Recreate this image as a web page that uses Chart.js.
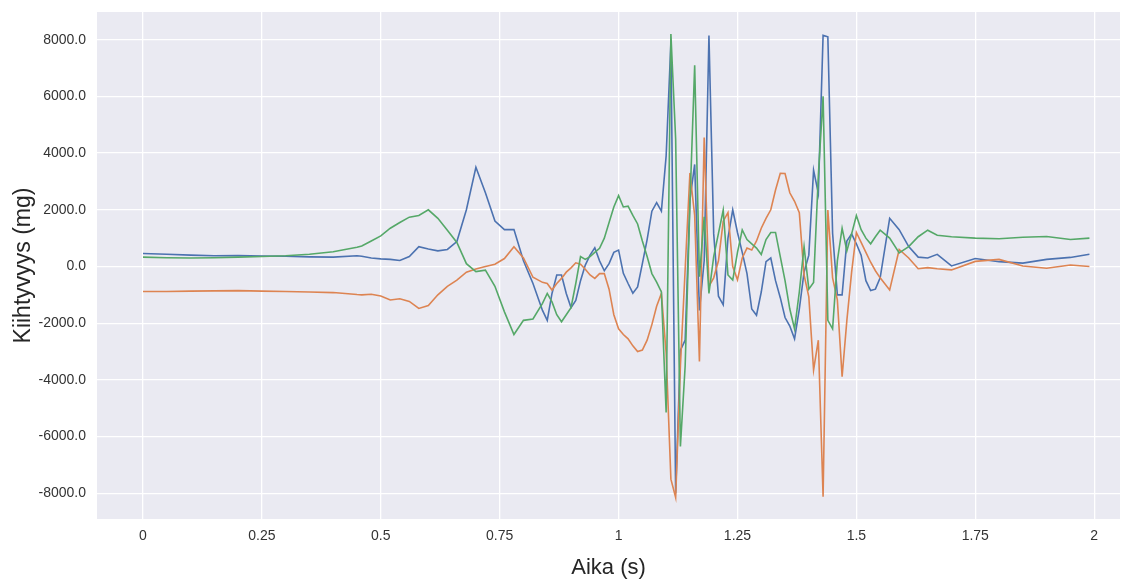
<!DOCTYPE html>
<html>
<head>
<meta charset="utf-8">
<script src="https://cdn.jsdelivr.net/npm/chart.js@4.4.0/dist/chart.umd.min.js"></script>
<style>
  html, body { margin: 0; padding: 0; background: #fff; overflow: hidden; }
</style>
</head>
<body>
<canvas id="kaavio" width="1126" height="581"></canvas>
<script>
// näytteenottoajat (s)
var aika = [0, 0.05, 0.1, 0.15, 0.2, 0.25, 0.3, 0.35, 0.4, 0.45,
  0.46, 0.48, 0.5, 0.52, 0.54, 0.56, 0.58, 0.6, 0.62, 0.64, 0.66, 0.68, 0.7, 0.72, 0.74, 0.76, 0.78, 0.8, 0.82, 0.84,
  0.85, 0.86, 0.87, 0.88, 0.89, 0.9, 0.91, 0.92, 0.93, 0.94, 0.95, 0.96, 0.97, 0.98, 0.99,
  1.0, 1.01, 1.02, 1.03, 1.04, 1.05, 1.06, 1.07, 1.08, 1.09,
  1.1, 1.11, 1.12, 1.13, 1.14, 1.15, 1.16, 1.17, 1.18, 1.19,
  1.2, 1.21, 1.22, 1.23, 1.24, 1.25, 1.26, 1.27, 1.28, 1.29,
  1.3, 1.31, 1.32, 1.33, 1.34, 1.35, 1.36, 1.37, 1.38, 1.39,
  1.4, 1.41, 1.42, 1.43, 1.44, 1.45, 1.46, 1.47, 1.48, 1.49,
  1.5, 1.51, 1.52, 1.53, 1.54, 1.55,
  1.57, 1.59, 1.61, 1.63, 1.65, 1.67, 1.7, 1.75, 1.8, 1.85, 1.9, 1.95, 1.99];

// kiihtyvyys (mg), x-akseli
var xAkseli = [460, 430, 400, 380, 390, 370, 360, 340, 330, 380,
  360, 300, 270, 250, 210, 350, 700, 620, 550, 600, 880, 2000, 3500, 2600, 1600, 1300, 1300, 200, -600, -1550,
  -1900, -950, -300, -300, -950, -1450, -1200, -500, 50, 400, 660, 200, -150, 100, 500,
  580, -240, -600, -940, -720, 100, 950, 1950, 2250, 1950,
  3900, 7900, -8000, -2950, -2600, 2350, 3600, -1550, 200, 8150,
  1150, -1050, -1350, 1000, 2000, 1200, 500, -250, -1500, -1720,
  -900, 170, 300, -500, -1100, -1800, -2100, -2550, -1500, -200,
  400, 3400, 2580, 8150, 8100, 1170, -1000, -1000, 900, 1150,
  800, 400, -500, -850, -800, -400,
  1700, 1300, 700, 330, 300, 430, 20, 280, 170, 120, 250, 320, 430];

// kiihtyvyys (mg), y-akseli
var yAkseli = [-880, -880, -870, -860, -850, -870, -880, -900, -920, -990,
  -1000, -980, -1040, -1180, -1140, -1230, -1480, -1380, -1000, -700, -480, -200, -90, 0, 80, 280, 700, 300, -380, -560,
  -600, -830, -600, -420, -200, -50, 130, 80, -100, -300, -420, -250, -250, -800, -1700,
  -2200, -2400, -2550, -2800, -3000, -2950, -2600, -2050, -1400, -950,
  -3050, -7500, -8150, -3500, -100, 3300, 1800, -3350, 4550, -700,
  -400, 200, 1600, 1900, 0, -470, 300, 650, 580, 900,
  1350, 1700, 2000, 2700, 3290, 3280, 2600, 2300, 1900, -300,
  -1070, -3650, -2600, -8120, 1990, -400, -1180, -3890, -1900, -200,
  1200, 850, 500, 150, -150, -400,
  -830, 600, 300, -80, -40, -80, -120, 180, 250, 20, -60, 50, 0];

// kiihtyvyys (mg), z-akseli
var zAkseli = [330, 310, 300, 310, 330, 350, 380, 430, 520, 680,
  720, 900, 1080, 1350, 1550, 1740, 1800, 2000, 1700, 1280, 850, 100, -180, -130, -700, -1600, -2400, -1900, -1850, -1300,
  -950, -1250, -1700, -1950, -1700, -1450, -600, 350, 250, 350, 500, 640, 1000, 1550, 2100,
  2500, 2100, 2130, 1800, 1500, 900, 350, -250, -550, -900,
  -5150, 8200, 4500, -6350, -3500, 2200, 7100, -360, 1750, -950,
  350, 1170, 1990, -300, -480, 500, 1290, 950, 800, 650,
  420, 950, 1200, 1200, 350, -500, -1500, -2200, -900, 700,
  -800, -560, 3200, 6000, -1900, -2200, 200, 1350, 550, 1150,
  1800, 1300, 1000, 800, 1050, 1280,
  1000, 480, 700, 1050, 1280, 1100, 1050, 1000, 980, 1030, 1060, 950, 1000];

var xTikit = [0, 0.25, 0.5, 0.75, 1, 1.25, 1.5, 1.75, 2];
var yTikit = [-8000, -6000, -4000, -2000, 0, 2000, 4000, 6000, 8000];

function pisteet(arvot) {
  return aika.map(function(t, i) { return { x: t, y: arvot[i] }; });
}

// harmaa tausta piirtoalueelle
var tausta = {
  id: 'tausta',
  beforeDraw: function(chart) {
    var ctx = chart.ctx, a = chart.chartArea;
    ctx.save();
    ctx.fillStyle = '#ffffff';
    ctx.fillRect(0, 0, chart.width, chart.height);
    ctx.fillStyle = '#eaeaf2';
    ctx.fillRect(a.left, a.top, a.right - a.left, a.bottom - a.top);
    ctx.restore();
  }
};

var fontti = 'Liberation Sans, Arial, sans-serif';

var ctx = document.getElementById('kaavio').getContext('2d');
var chart = new Chart(ctx, {
  type: 'line',
  data: {
    datasets: [
      { label: 'x', data: pisteet(xAkseli), borderColor: '#4c72b0', order: 3 },
      { label: 'y', data: pisteet(yAkseli), borderColor: '#dd8452', order: 2 },
      { label: 'z', data: pisteet(zAkseli), borderColor: '#55a868', order: 1 }
    ]
  },
  options: {
    responsive: false,
    animation: false,
    devicePixelRatio: 1,
    layout: { padding: { left: 0, right: 6, top: 12, bottom: 0 } },
    elements: {
      line: { borderWidth: 1.6, tension: 0, fill: false },
      point: { radius: 0 }
    },
    plugins: { legend: { display: false }, tooltip: { enabled: false } },
    scales: {
      x: {
        type: 'linear',
        min: -0.0967,
        max: 2.0543,
        afterBuildTicks: function(scale) {
          scale.ticks = xTikit.map(function(v) { return { value: v }; });
        },
        afterFit: function(scale) {
          scale.height = 62;
          scale.paddingLeft = 0;
          scale.paddingRight = 0;
        },
        grid: { color: '#ffffff', lineWidth: 1.3, drawTicks: false },
        border: { display: false },
        ticks: {
          autoSkip: false, maxRotation: 0, padding: 9,
          color: '#333333', font: { family: fontti, size: 14 },
          callback: function(v) { return String(v); }
        },
        title: {
          display: true, text: 'Aika (s)', color: '#262626',
          font: { family: fontti, size: 22 }, padding: { top: 0, bottom: 0 }
        }
      },
      y: {
        min: -8906,
        max: 8976,
        afterBuildTicks: function(scale) {
          scale.ticks = yTikit.map(function(v) { return { value: v }; });
        },
        afterFit: function(scale) {
          scale.width = 97;
          scale.paddingTop = 0;
          scale.paddingBottom = 0;
        },
        grid: { color: '#ffffff', lineWidth: 1.3, drawTicks: false },
        border: { display: false },
        ticks: {
          padding: 11, color: '#333333', font: { family: fontti, size: 14 },
          callback: function(v) { return v.toFixed(1); }
        },
        title: {
          display: true, text: 'Kiihtyvyys (mg)', color: '#262626',
          font: { family: fontti, size: 23 }, padding: { top: 10, bottom: 0 }
        }
      }
    }
  },
  plugins: [tausta]
});
</script>
</body>
</html>
